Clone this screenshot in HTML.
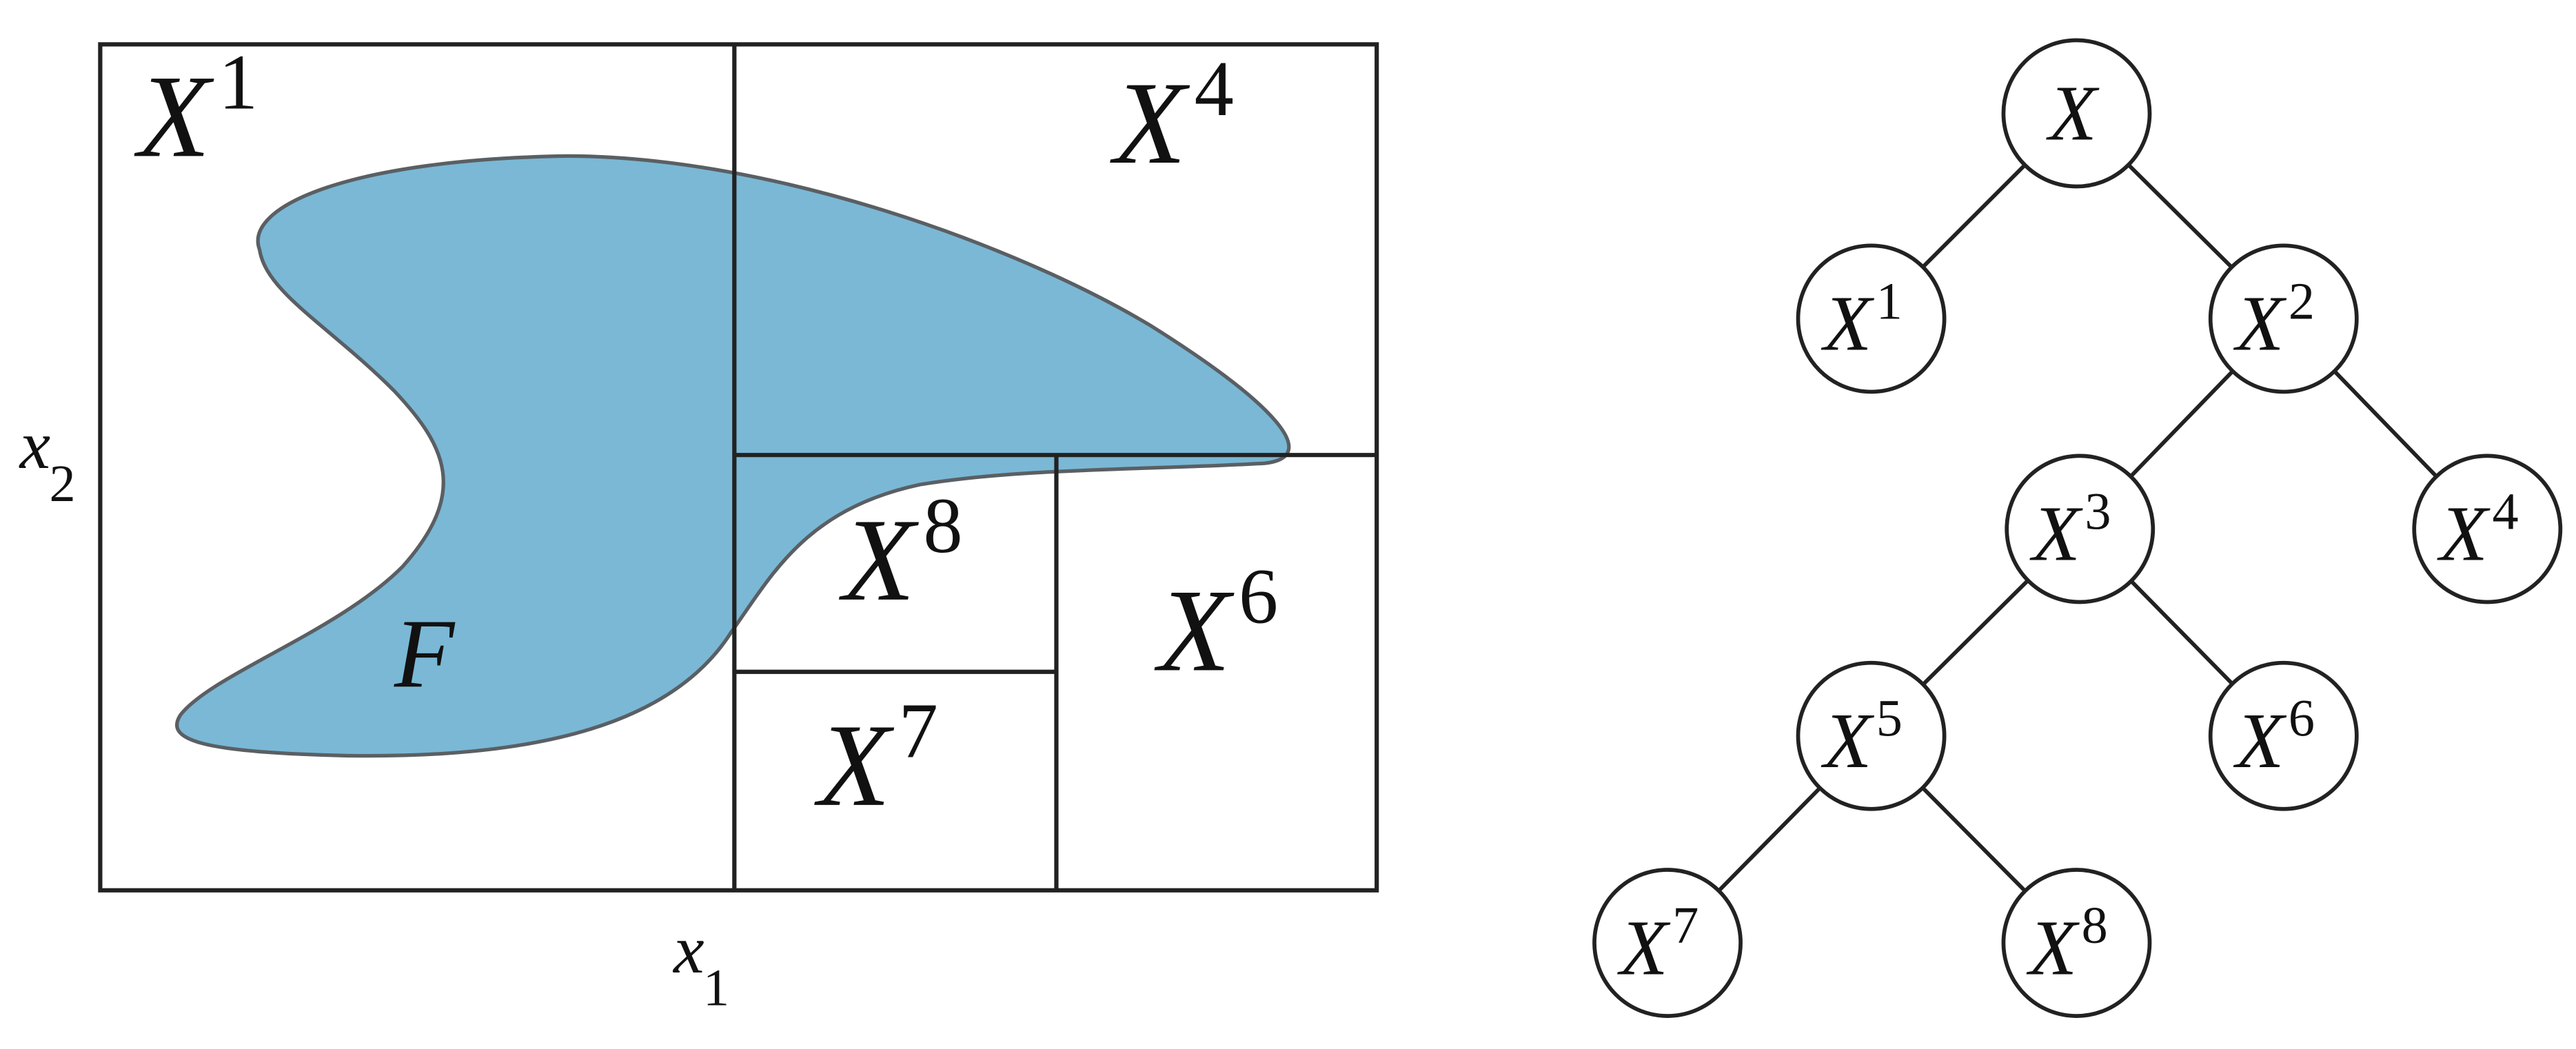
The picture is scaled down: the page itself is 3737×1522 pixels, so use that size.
<!DOCTYPE html>
<html><head><meta charset="utf-8"><style>
html,body{margin:0;padding:0;background:#fff;}
svg{display:block;}
text{font-family:"Liberation Serif","DejaVu Serif",serif;font-style:italic;fill:#111;}
.n{font-style:normal;}
</style></head><body>
<svg width="3737" height="1522" viewBox="0 0 1568 638.6" xmlns="http://www.w3.org/2000/svg">
<rect width="1568" height="638.6" fill="#fff"/>
<path d="M158,152 C148,125 215,97 345,95 C470,95 620,150 700,198 C775,245 805,278 770,282 C700,286 620,285 560,295 C490,310 470,350 445,385 C410,440 330,462 210,460 C120,458 100,450 110,435 C130,410 205,385 245,345 C285,300 272,272 240,238 C200,198 162,178 158,152 Z" fill="#7ab8d6" stroke="#5a5f63" stroke-width="2.2"/>
<g stroke="#222" stroke-width="2.6" fill="none">
<rect x="61" y="27" width="777" height="515"/>
<line x1="447" y1="27" x2="447" y2="542"/>
<line x1="447" y1="277" x2="838" y2="277"/>
<line x1="643" y1="277" x2="643" y2="542"/>
<line x1="447" y1="409" x2="643" y2="409"/>
</g>
<text x="84" y="95" font-size="72">X</text><text class="n" x="133" y="66" font-size="48">1</text>
<text x="678" y="99" font-size="72">X</text><text class="n" x="727" y="70" font-size="48">4</text>
<text x="513" y="365" font-size="72">X</text><text class="n" x="562" y="336" font-size="48">8</text>
<text x="705" y="408" font-size="72">X</text><text class="n" x="754" y="379" font-size="48">6</text>
<text x="498" y="490" font-size="72">X</text><text class="n" x="547" y="461" font-size="48">7</text>
<text x="240" y="418" font-size="60">F</text>
<text x="12" y="285" font-size="42">x</text><text class="n" x="30" y="305" font-size="32">2</text>
<text x="410" y="592" font-size="42">x</text><text class="n" x="428" y="612" font-size="32">1</text>
<g stroke="#222" stroke-width="2.4">
<line x1="1264" y1="69" x2="1139" y2="194"/>
<line x1="1264" y1="69" x2="1390" y2="194"/>
<line x1="1390" y1="194" x2="1266" y2="322"/>
<line x1="1390" y1="194" x2="1514" y2="322"/>
<line x1="1266" y1="322" x2="1139" y2="448"/>
<line x1="1266" y1="322" x2="1390" y2="448"/>
<line x1="1139" y1="448" x2="1015" y2="574"/>
<line x1="1139" y1="448" x2="1264" y2="574"/>
</g>
<g stroke="#222" stroke-width="2.4" fill="#fff">
<circle cx="1264" cy="69" r="44.5"/>
<circle cx="1139" cy="194" r="44.5"/>
<circle cx="1390" cy="194" r="44.5"/>
<circle cx="1266" cy="322" r="44.5"/>
<circle cx="1514" cy="322" r="44.5"/>
<circle cx="1139" cy="448" r="44.5"/>
<circle cx="1390" cy="448" r="44.5"/>
<circle cx="1015" cy="574" r="44.5"/>
<circle cx="1264" cy="574" r="44.5"/>
</g>
<text x="1247" y="85" font-size="48">X</text>
<text x="1110" y="213" font-size="48">X</text><text class="n" x="1142" y="194" font-size="32">1</text>
<text x="1361" y="213" font-size="48">X</text><text class="n" x="1393" y="194" font-size="32">2</text>
<text x="1237" y="341" font-size="48">X</text><text class="n" x="1269" y="322" font-size="32">3</text>
<text x="1485" y="341" font-size="48">X</text><text class="n" x="1517" y="322" font-size="32">4</text>
<text x="1110" y="467" font-size="48">X</text><text class="n" x="1142" y="448" font-size="32">5</text>
<text x="1361" y="467" font-size="48">X</text><text class="n" x="1393" y="448" font-size="32">6</text>
<text x="986" y="593" font-size="48">X</text><text class="n" x="1018" y="574" font-size="32">7</text>
<text x="1235" y="593" font-size="48">X</text><text class="n" x="1267" y="574" font-size="32">8</text>
</svg>
</body></html>
